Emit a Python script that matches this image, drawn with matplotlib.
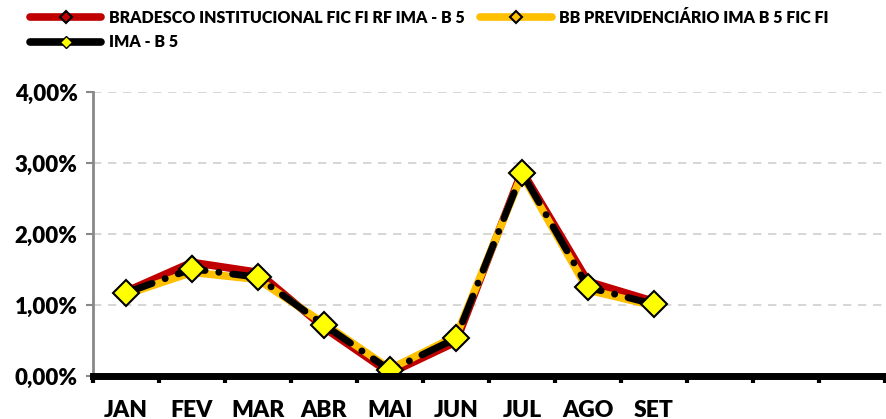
import matplotlib
matplotlib.use("Agg")
import matplotlib.pyplot as plt
from matplotlib.ticker import FuncFormatter
from matplotlib.lines import Line2D

months = ["JAN", "FEV", "MAR", "ABR", "MAI", "JUN", "JUL", "AGO", "SET", "", "", ""]
bradesco = [1.19, 1.60, 1.46, 0.68, 0.04, 0.48, 2.89, 1.33, 1.05]
bb_prev = [1.15, 1.46, 1.36, 0.74, 0.10, 0.56, 2.84, 1.21, 0.99]
ima_b5 = [1.17, 1.51, 1.39, 0.72, 0.08, 0.53, 2.86, 1.25, 1.01]

labels = ["BRADESCO INSTITUCIONAL FIC FI RF IMA - B 5",
          "BB PREVIDENCIÁRIO IMA B 5 FIC FI",
          "IMA - B 5"]

plt.rcParams['font.family'] = ['Lato', 'DejaVu Sans']
plt.rcParams['font.weight'] = 'heavy'

fig = plt.figure(figsize=(8.86, 4.19), dpi=100)
ax = fig.add_axes([93/886, 1-376/419, 792/886, (376-92)/419])

x = list(range(len(bradesco)))
red = "#C00000"
orange = "#FFC000"
ax.plot(x, bradesco, color=red, lw=5.5, solid_capstyle='round', solid_joinstyle='round',
        marker='D', ms=6, mfc=red, mec='black', mew=1.5, zorder=3)
ax.plot(x, bb_prev, color=orange, lw=5.5, solid_capstyle='round', solid_joinstyle='round',
        marker='D', ms=6, mfc=orange, mec='black', mew=1.5, zorder=4)
ax.plot(x, ima_b5, color='black', lw=5, dashes=(4, 2.0, 0.01, 2.0), dash_capstyle='round',
        marker='D', ms=13, mfc='#FFFF00', mec='black', mew=1.5, zorder=5)

ax.set_xlim(-0.5, len(months) - 0.5)
ax.set_ylim(0, 4)
ax.set_yticks([0, 1, 2, 3, 4])
ax.yaxis.set_major_formatter(FuncFormatter(lambda v, p: f"{v:.2f}%".replace('.', ',')))
ax.set_xticks(range(len(months)))
ax.set_xticklabels(months)
ax.set_xticks([i - 0.5 for i in range(len(months) + 1)], minor=True)
ax.tick_params(axis='x', which='major', length=0, pad=17, labelsize=16.5)
ax.tick_params(axis='x', which='minor', length=5, width=3, color='black')
ax.tick_params(axis='y', length=5, width=1.5, color='#888888', labelsize=16, pad=6)

ax.grid(axis='y', color='#D0D0D0', lw=1.2, ls=(0, (5, 4)))
ax.set_axisbelow(True)
for s in ['top', 'right']:
    ax.spines[s].set_visible(False)
ax.spines['left'].set_color('#888888')
ax.spines['left'].set_linewidth(2)
ax.spines['bottom'].set_color('black')
ax.spines['bottom'].set_linewidth(5)
ax.spines['bottom'].set_zorder(6)

h_b = Line2D([], [], color=red, lw=5.5, solid_capstyle='round', marker='D', ms=6, mfc=red, mec='black', mew=1.5)
h_bb = Line2D([], [], color=orange, lw=5.5, solid_capstyle='round', marker='D', ms=6, mfc=orange, mec='black', mew=1.5)
h_i = Line2D([], [], color='black', lw=5.5, solid_capstyle='round', marker='D', ms=6, mfc='#FFFF00', mec='black', mew=1)
leg = fig.legend([h_b, h_i, h_bb], [labels[0], labels[2], labels[1]], ncol=2,
                 loc='upper left', bbox_to_anchor=(20/886, 1.0), frameon=False,
                 fontsize=11.5, handlelength=4.5, handletextpad=0.45, columnspacing=1.0,
                 labelspacing=0.55, borderaxespad=0.2)

fig.savefig("out.png", dpi=100)
